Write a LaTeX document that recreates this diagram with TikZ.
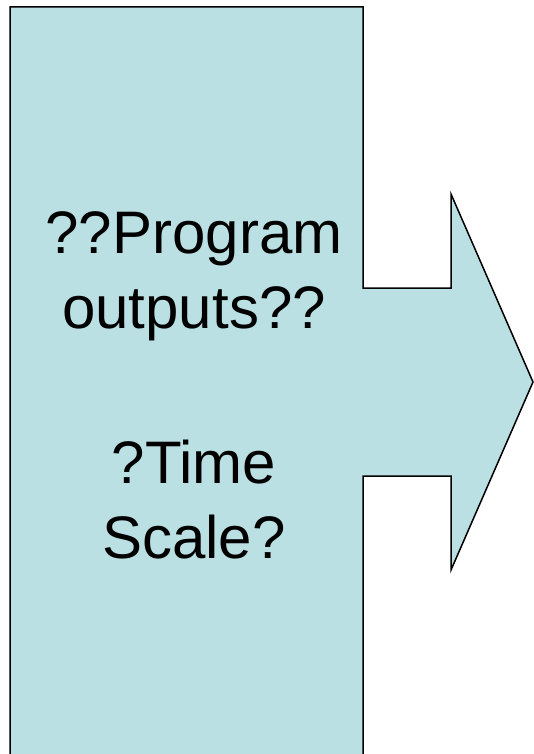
\documentclass[tikz,border=0pt]{standalone}
\usepackage{fontspec}
\setmainfont{Liberation Sans}
\usetikzlibrary{positioning}

\definecolor{panelblue}{HTML}{BBE0E3}

\begin{document}
\begin{tikzpicture}[
    x=1pt, y=-1pt,
    panel/.style={draw=black, line width=1.5pt, fill=panelblue, line join=miter},
    lbl/.style={font=\fontsize{60}{75}\selectfont, align=center, anchor=base, inner sep=0pt},
]
\useasboundingbox (0,0) rectangle (533,754);
% box and arrow as one outline
\draw[panel] (10,7) -- (363,7) -- (363,288) -- (451,288) -- (451,194)
    -- (533,382) -- (451,570) -- (451,476) -- (363,476) -- (363,770)
    -- (10,770) -- cycle;
% base anchor sits on the last line
\node[lbl] (outputs) at (194,328) {??Program\\outputs??};
\node[lbl] (timescale) at (194,558) {?Time\\Scale?};
\end{tikzpicture}
\end{document}
